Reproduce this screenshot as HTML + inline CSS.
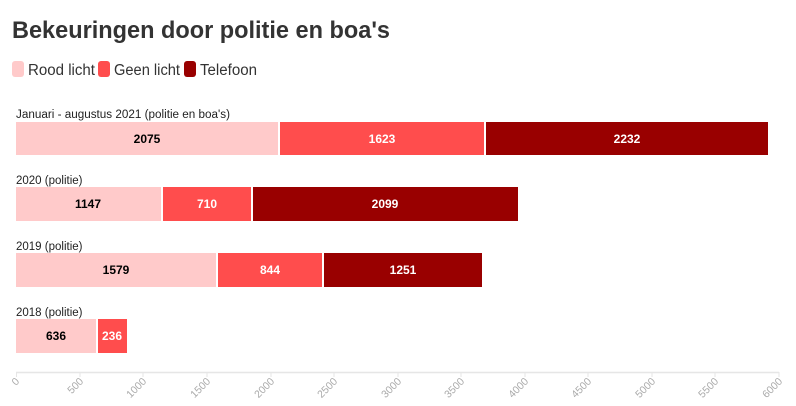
<!DOCTYPE html>
<html><head><style>
body{margin:0;background:#fff;font-family:"Liberation Sans",sans-serif;}
</style></head><body>
<svg width="796" height="401" xmlns="http://www.w3.org/2000/svg" font-family="Liberation Sans, sans-serif">
<text x="12" y="38" font-size="24" font-weight="bold" fill="#333" textLength="378" lengthAdjust="spacingAndGlyphs">Bekeuringen door politie en boa's</text>
<rect x="12" y="61" width="12" height="16" rx="3" fill="#ffcaca"/>
<text x="28" y="75" font-size="15.5" fill="#333" textLength="67" lengthAdjust="spacingAndGlyphs">Rood licht</text>
<rect x="98" y="61" width="12" height="16" rx="3" fill="#ff4d4d"/>
<text x="114" y="75" font-size="15.5" fill="#333" textLength="66" lengthAdjust="spacingAndGlyphs">Geen licht</text>
<rect x="184" y="61" width="12" height="16" rx="3" fill="#990000"/>
<text x="200" y="75" font-size="15.5" fill="#333" textLength="57" lengthAdjust="spacingAndGlyphs">Telefoon</text>
<g font-size="11.5" fill="#222">
<text x="16" y="118" textLength="214" lengthAdjust="spacingAndGlyphs">Januari - augustus 2021 (politie en boa's)</text>
<text x="16" y="184">2020 (politie)</text>
<text x="16" y="250">2019 (politie)</text>
<text x="16" y="316">2018 (politie)</text>
</g>
<g font-size="12" font-weight="bold" text-anchor="middle">
<rect x="16" y="122" width="262" height="33" fill="#ffcaca"/><text x="147" y="143" fill="#000">2075</text>
<rect x="280" y="122" width="204" height="33" fill="#ff4d4d"/><text x="382" y="143" fill="#fff">1623</text>
<rect x="486" y="122" width="282" height="33" fill="#990000"/><text x="627" y="143" fill="#fff">2232</text>

<rect x="16" y="187" width="145" height="34" fill="#ffcaca"/><text x="88" y="208" fill="#000">1147</text>
<rect x="163" y="187" width="88" height="34" fill="#ff4d4d"/><text x="207" y="208" fill="#fff">710</text>
<rect x="253" y="187" width="265" height="34" fill="#990000"/><text x="385" y="208" fill="#fff">2099</text>

<rect x="16" y="253" width="200" height="34" fill="#ffcaca"/><text x="116" y="274" fill="#000">1579</text>
<rect x="218" y="253" width="104" height="34" fill="#ff4d4d"/><text x="270" y="274" fill="#fff">844</text>
<rect x="324" y="253" width="158" height="34" fill="#990000"/><text x="403" y="274" fill="#fff">1251</text>

<rect x="16" y="319" width="80" height="34" fill="#ffcaca"/><text x="56" y="340" fill="#000">636</text>
<rect x="98" y="319" width="29" height="34" fill="#ff4d4d"/><text x="112" y="340" fill="#fff">236</text>
</g>
<line x1="16" y1="372.5" x2="779" y2="372.5" stroke="#e6e6e6" stroke-width="1.5"/>
<g stroke="#e6e6e6" stroke-width="1">
<line x1="16.5" y1="372" x2="16.5" y2="377"/><line x1="80" y1="372" x2="80" y2="377"/><line x1="143" y1="372" x2="143" y2="377"/><line x1="207" y1="372" x2="207" y2="377"/><line x1="271" y1="372" x2="271" y2="377"/><line x1="334" y1="372" x2="334" y2="377"/><line x1="398" y1="372" x2="398" y2="377"/><line x1="461" y1="372" x2="461" y2="377"/><line x1="525" y1="372" x2="525" y2="377"/><line x1="588" y1="372" x2="588" y2="377"/><line x1="652" y1="372" x2="652" y2="377"/><line x1="715" y1="372" x2="715" y2="377"/><line x1="779" y1="372" x2="779" y2="377"/>
</g>
<g font-size="10.5" fill="#aaa" text-anchor="end">
<text transform="translate(20,382) rotate(-45)">0</text>
<text transform="translate(84,382) rotate(-45)">500</text>
<text transform="translate(147,382) rotate(-45)">1000</text>
<text transform="translate(211,382) rotate(-45)">1500</text>
<text transform="translate(275,382) rotate(-45)">2000</text>
<text transform="translate(338,382) rotate(-45)">2500</text>
<text transform="translate(402,382) rotate(-45)">3000</text>
<text transform="translate(465,382) rotate(-45)">3500</text>
<text transform="translate(529,382) rotate(-45)">4000</text>
<text transform="translate(592,382) rotate(-45)">4500</text>
<text transform="translate(656,382) rotate(-45)">5000</text>
<text transform="translate(719,382) rotate(-45)">5500</text>
<text transform="translate(783,382) rotate(-45)">6000</text>
</g>
</svg>
</body></html>
